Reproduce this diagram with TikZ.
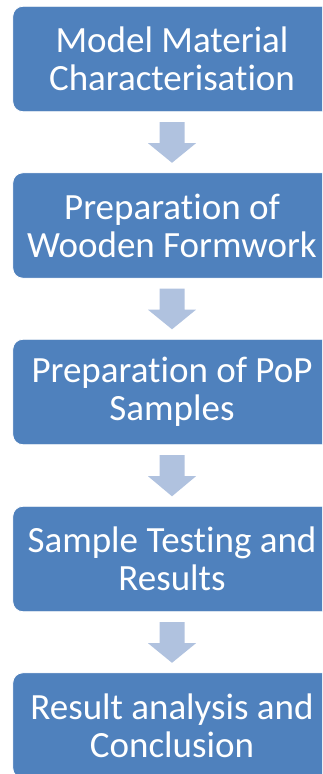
\documentclass[tikz,border=0pt]{standalone}
\usepackage{fontspec}
\setmainfont[Ligatures=NoCommon]{Carlito}
\usetikzlibrary{calc,backgrounds}
\definecolor{boxblue}{HTML}{4F81BD}
\definecolor{arrblue}{HTML}{B0C2DF}
\tikzset{
  stepbox/.style={rectangle, minimum width=318pt, minimum height=105pt, inner sep=0pt,
    text=white, align=center, font=\fontsize{37}{38}\selectfont},
  boxfill/.style={rounded corners=10pt, fill=boxblue, draw=white, line width=0.8pt},
  flowarr/.style={fill=arrblue, draw=none}
}
\newcommand{\boxbg}[1]{%
  \path[boxfill] (#1.north west) rectangle ($(#1.south east)+(25,0)$);}
\newcommand{\flowarrow}[2]{%
  \fill[flowarr] ($(#1.south)+(-12.5,10.5)$) -- ($(#1.south)+(12.5,10.5)$)
    -- ($(#1.south)+(12.5,31.5)$) -- ($(#1.south)+(24,31.5)$)
    -- ($(#2.north)+(0,-10)$) -- ($(#1.south)+(-24,31.5)$)
    -- ($(#1.south)+(-12.5,31.5)$) -- cycle;}
\begin{document}
\begin{tikzpicture}[x=1pt,y=-1pt]
\useasboundingbox (0,0) rectangle (322,774);
\node[stepbox] (b1) at (172,59) {Model Material\\Characterisation};
\node[stepbox] (b2) at (172,225.5) {Preparation of\\Wooden Formwork};
\node[stepbox] (b3) at (172,392) {Preparation of PoP\\Samples};
\node[stepbox] (b4) at (172,559) {Sample Testing and\\Results};
\node[stepbox] (b5) at (172,725.5) {Result analysis and\\Conclusion};
\begin{scope}[on background layer]
\clip (0,0) rectangle (322,774);
\boxbg{b1}\boxbg{b2}\boxbg{b3}\boxbg{b4}\boxbg{b5}
\flowarrow{b1}{b2}
\flowarrow{b2}{b3}
\flowarrow{b3}{b4}
\flowarrow{b4}{b5}
\end{scope}
\end{tikzpicture}
\end{document}
